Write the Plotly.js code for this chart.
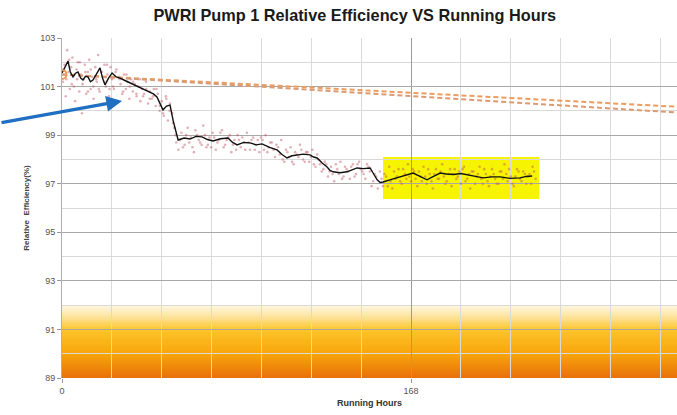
<!DOCTYPE html>
<html>
<head>
<meta charset="utf-8">
<script src="https://cdn.plot.ly/plotly-3.0.1.min.js"></script>
<style>html,body{margin:0;padding:0;background:#fff;}#chart{width:677px;height:415px;}</style>
</head>
<body>
<div id="chart"></div>
<script>
// Raw readings (hours, relative efficiency %)
const rawHours = [0.5,1.2,1.8,2.5,3.1,3.8,4.4,5.0,5.7,6.3,7.0,7.6,8.3,9.0,9.6,10.3,11.0,11.7,12.4,13.1,13.8,14.5,15.2,16.0,16.7,17.4,18.1,18.9,19.6,20.4,21.1,21.9,22.6,23.4,24.2,25.0,25.8,26.6,27.4,28.2,29.0,29.8,30.7,31.5,32.4,33.2,34.1,35.0,35.9,36.8,37.7,38.6,39.5,40.4,41.4,42.3,43.2,44.2,45.1,46.1,47.0,48.0,49.0,50.0,51.0,52.0,53.0,54.0,55.0,
  56,57.5,59,60.5,62,63.5,65,66.5,68,69.5,71,72.5,74,75.5,77,78.5,80,81.5,83,84.5,86,87.5,89,90.5,92,93.5,95,96.5,98,99.5,101,102.5,104,105.5,107,108.5,110,111.5,113,114.5,116,117.5,119,120.5,122,123.5,125,126.5,128,129.5,131,132.5,134,135.5,137,138.5,140,141.5,143,144.5,146,147.5,149,150.5,152,
  153,154.5,156,157.5,159,160.5,162,163.5,165,166.5,168,169.5,171,172.5,174,175.5,177,178.5,180,181.5,183,184.5,186,187.5,189,190.5,192,193.5,195,196.5,198,199.5,201,202.5,204,205.5,207,208.5,210,211.5,213,214.5,216,217.5,219,220.5,222,223.5,225,226.5,228];
const rawEff = [101.2,101.9,100.6,102.5,101.6,100.9,101.8,102.2,101.0,100.4,101.7,102.0,100.8,101.5,99.9,101.3,101.9,100.7,101.6,102.1,100.9,101.4,100.5,101.8,101.2,102.3,100.8,101.6,100.3,101.9,101.0,101.5,100.6,101.8,101.3,100.9,101.6,100.4,101.4,101.1,100.7,101.5,100.9,101.2,100.5,101.3,100.8,101.1,100.6,101.0,100.4,100.9,100.7,101.2,100.3,100.8,100.5,100.9,100.2,100.7,100.0,100.4,99.8,100.6,99.6,100.3,99.9,99.3,98.7,
  98.4,99.1,98.6,99.3,98.9,98.3,99.0,98.7,99.4,98.5,98.9,99.1,98.4,98.8,99.2,98.6,98.9,98.3,98.8,99.0,98.5,98.7,99.1,98.4,98.9,98.6,98.3,98.8,99.0,98.5,98.7,98.1,98.5,98.8,97.9,98.3,98.5,97.8,98.2,98.6,98.0,98.3,97.9,98.4,97.7,98.0,97.5,97.9,97.3,97.7,97.1,97.6,97.9,97.3,97.6,97.2,97.8,97.4,97.9,97.5,97.2,97.7,96.9,97.4,96.8,
  97.5,96.9,97.3,97.7,96.8,97.2,97.6,97.0,97.4,97.8,97.1,97.5,96.9,97.3,97.7,97.0,97.4,96.8,97.6,97.2,97.8,97.0,97.4,96.9,97.6,97.3,97.0,97.7,97.2,96.8,97.5,97.3,97.7,97.0,97.4,96.9,97.6,97.2,97.0,97.5,97.8,97.1,97.3,96.9,97.6,97.2,97.5,97.0,97.4,97.7,97.2];
const rawHours2 = [0.9,2.1,3.4,4.7,6.0,7.3,8.6,9.9,11.2,12.5,13.8,15.1,16.4,17.7,19.0,20.3,21.6,22.9,24.6,26.2,27.8,29.4,31.0,32.6,34.2,35.8,37.4,39.0,40.6,42.2,43.8,45.4,47.0,48.6,50.2,51.8,53.4,54.6,
  56.8,58.2,59.8,61.2,62.8,64.2,65.8,67.2,68.8,70.2,71.8,73.2,74.8,76.2,77.8,79.2,80.8,82.2,83.8,85.2,86.8,88.2,89.8,91.2,92.8,94.2,95.8,97.2,98.8,100.2,101.8,103.2,104.8,106.2,107.8,109.2,110.8,112.2,113.8,115.2,116.8,118.2,119.8,121.2,122.8,124.2,125.8,127.2,128.8,130.2,131.8,133.2,134.8,136.2,137.8,139.2,140.8,142.2,143.8,145.2,146.8,148.2,149.8,151.2,
  153.8,155.2,156.8,158.2,159.8,161.2,162.8,164.2,165.8,167.2,168.8,170.2,171.8,173.2,174.8,176.2,177.8,179.2,180.8,182.2,183.8,185.2,186.8,188.2,189.8,191.2,192.8,194.2,195.8,197.2,198.8,200.2,201.8,203.2,204.8,206.2,207.8,209.2,210.8,212.2,213.8,215.2,216.8,218.2,219.8,221.2,222.8,224.2,225.8,227.2];
const rawEff2 = [101.7,101.3,102.1,101.1,101.5,101.3,102.0,101.1,101.6,100.8,101.7,101.0,101.3,100.9,101.6,101.2,101.9,100.9,101.0,101.7,101.3,100.8,101.5,101.0,101.2,100.7,101.3,100.6,100.9,100.5,100.6,100.9,100.2,99.9,100.5,100.0,99.5,99.0,
  98.8,98.5,99.0,98.7,98.5,99.2,98.8,98.6,99.0,98.6,98.5,98.9,98.7,99.1,98.5,98.8,99.0,98.6,98.4,98.8,98.9,98.4,98.7,98.8,98.4,98.8,98.9,98.4,98.3,98.7,98.4,98.6,98.2,98.0,98.4,98.1,97.9,98.3,98.1,98.4,97.9,98.3,98.1,97.8,98.2,97.8,97.6,97.8,97.5,97.4,97.8,97.4,97.2,97.7,97.5,97.7,97.3,97.8,97.6,97.4,97.8,97.5,97.1,97.3,
  97.2,97.4,96.9,97.1,97.5,97.3,97.1,97.6,97.2,97.3,97.6,97.2,97.5,97.1,97.3,97.6,97.1,97.4,97.2,97.5,97.3,97.1,97.6,97.4,97.2,97.5,97.6,97.1,97.4,97.5,97.0,97.4,97.2,97.6,97.1,97.3,97.4,97.0,97.5,97.2,97.4,97.6,97.0,97.3,97.5,97.1,97.4,97.3,97.0,97.5];

// Moving average
const maHours = [0,1.5,2.9,4,5.3,6.5,7.7,9,10.1,11.3,12.5,13.7,14.9,16.5,18.3,19.5,20.7,22.4,24.1,26,27.9,30.3,32.7,35.1,37.6,40,42.4,44,45.7,47.1,48.6,50.3,52.0,53.5,55.9,58.8,61.6,64.5,67.4,70,72.7,76.3,79.9,82.1,84.3,87.4,90.5,93.4,96.3,99.9,103.5,105.9,108.3,110.7,113.1,116.2,119.4,121.1,122.8,125.2,127.6,129,130.5,133.8,137.2,139.6,142,145.1,148.3,150,151.7,153.1,154.5,158.6,162.7,165.8,169,172.3,175.7,178.8,182,185,188.5,192,195,199,202.7,206.8,210.9,215.7,220.5,223.4,226.3];
const maEff = [101.56,101.8,102.05,101.6,101.40,101.55,101.60,101.35,101.27,101.42,101.40,101.2,101.27,101.5,101.77,101.35,101.07,101.35,101.56,101.4,101.35,101.25,101.15,101.08,100.98,100.88,100.78,100.7,100.57,100.3,100.04,100.2,100.24,99.6,98.80,98.88,98.84,98.95,98.93,98.82,98.76,98.85,98.88,98.7,98.60,98.7,98.68,98.6,98.64,98.5,98.39,98.2,98.06,98.15,98.19,98.22,98.19,98.1,98.06,97.85,97.69,97.55,97.49,97.45,97.49,97.58,97.65,97.62,97.65,97.4,97.16,97.05,97.07,97.18,97.28,97.36,97.44,97.3,97.16,97.3,97.44,97.4,97.38,97.42,97.36,97.3,97.24,97.28,97.28,97.22,97.24,97.3,97.32];

// Trend lines
const trendHours = [0, 296];
const trendA = [101.5, 100.17];
const trendB = [101.5, 99.93];
const startHour = [0];
const startEff = [101.5];

// Tick labels
const xTickVals = [0, 168];
const xTickText = ['0', '168'];

const traces = [
  {x: rawHours.concat(rawHours2), y: rawEff.concat(rawEff2), type: 'scatter', mode: 'markers', name: 'Raw',
   marker: {size: 2.6, color: 'rgba(190,80,95,0.45)'}},
  {x: trendHours, y: trendA, type: 'scatter', mode: 'lines', name: 'Trend A',
   line: {color: '#eb9c5e', width: 2, dash: '5px,3px'}},
  {x: trendHours, y: trendB, type: 'scatter', mode: 'lines', name: 'Trend B',
   line: {color: '#dc9a72', width: 2, dash: '5px,3px'}},
  {x: maHours, y: maEff, type: 'scatter', mode: 'lines', name: 'Moving average',
   line: {color: '#111111', width: 1.4}},
  {x: startHour, y: startEff, type: 'scatter', mode: 'markers', name: 'Start',
   marker: {symbol: 'circle-open', size: 9, color: '#eb9a55', line: {width: 2}}}
];

// gradient band shapes (decoration), stacked so no seams show
function hex(c){return [parseInt(c.slice(1,3),16),parseInt(c.slice(3,5),16),parseInt(c.slice(5,7),16)];}
const stops = [[92,'#fff7e4'],[91.5,'#fde39a'],[91,'#fcc52c'],[90,'#f8a50a'],[89,'#e8700c']];
function colAt(v){
  for(let i=0;i<stops.length-1;i++){
    const [v0,c0]=stops[i],[v1,c1]=stops[i+1];
    if(v<=v0 && v>=v1){const t=(v0-v)/(v0-v1);const a=hex(c0),b=hex(c1);
      return 'rgb('+a.map((x,k)=>Math.round(x+(b[k]-x)*t)).join(',')+')';}
  }
  return stops[stops.length-1][1];
}
const shapes = [];
const N = 60;
for(let i=0;i<N;i++){
  const top = 92 - 3*i/N, bot = 92 - 3*(i+1)/N;
  shapes.push({type:'rect', xref:'paper', yref:'y', x0:0, x1:1, y0:88.9, y1:top,
    fillcolor: colAt((top+bot)/2), line:{width:0}, layer:'below'});
}
shapes.push({type:'rect', xref:'x', yref:'y', x0:154.5, x1:229.7, y0:96.37, y1:98.1,
  fillcolor:'#f6f400', line:{width:0}, layer:'below'});

const layout = {
  width: 677, height: 415,
  margin: {l: 62, r: 0, t: 38, b: 37},
  paper_bgcolor: '#ffffff', plot_bgcolor: '#ffffff',
  showlegend: false,
  title: {text: '<b>PWRI Pump 1 Relative Efficiency VS Running Hours</b>',
    font: {family: 'Liberation Sans, Arial, sans-serif', size: 16.3, color: '#1a1a1a'},
    xref: 'container', x: 0.524, xanchor: 'center', yref: 'container', y: 0.963, yanchor: 'middle'},
  xaxis: {range: [0, 296], tickmode: 'array', tickvals: xTickVals, ticktext: xTickText,
    showgrid: true, gridcolor: '#9a9a9a', gridwidth: 1,
    minor: {tickmode: 'linear', tick0: 0, dtick: 24, showgrid: true, gridcolor: '#dadada', gridwidth: 1},
    ticks: 'outside', ticklen: 4, tickcolor: '#999',
    zeroline: false, showline: false,
    tickfont: {family: 'Liberation Sans, Arial, sans-serif', size: 9, color: '#555'},
    title: {text: '<b>Running Hours</b>', standoff: 4,
      font: {family: 'Liberation Sans, Arial, sans-serif', size: 9, color: '#333'}}},
  yaxis: {range: [89, 103], tickmode: 'linear', tick0: 89, dtick: 2,
    showgrid: true, gridcolor: '#a8a8a8', gridwidth: 1,
    minor: {tickmode: 'linear', tick0: 89, dtick: 1, showgrid: true, gridcolor: '#d8d8d8', gridwidth: 1},
    ticks: 'outside', ticklen: 4, tickcolor: '#999',
    zeroline: false, showline: true, linecolor: '#b0b0b0', linewidth: 1,
    tickfont: {family: 'Liberation Sans, Arial, sans-serif', size: 9, color: '#555'},
    title: {text: '<b>Relative  Efficiency(%)</b>', standoff: 9,
      font: {family: 'Liberation Sans, Arial, sans-serif', size: 8, color: '#444'}}},
  shapes: shapes,
  annotations: [{x: 28.9, y: 100.41, xref: 'x', yref: 'y', text: '', showarrow: true,
    ax: -124, ay: 22, arrowcolor: '#1f6fc2', arrowwidth: 3.5, arrowhead: 2, arrowsize: 0.9, standoff: 0}]
};

Plotly.newPlot('chart', traces, layout, {displayModeBar: false, staticPlot: true});
</script>
</body>
</html>
